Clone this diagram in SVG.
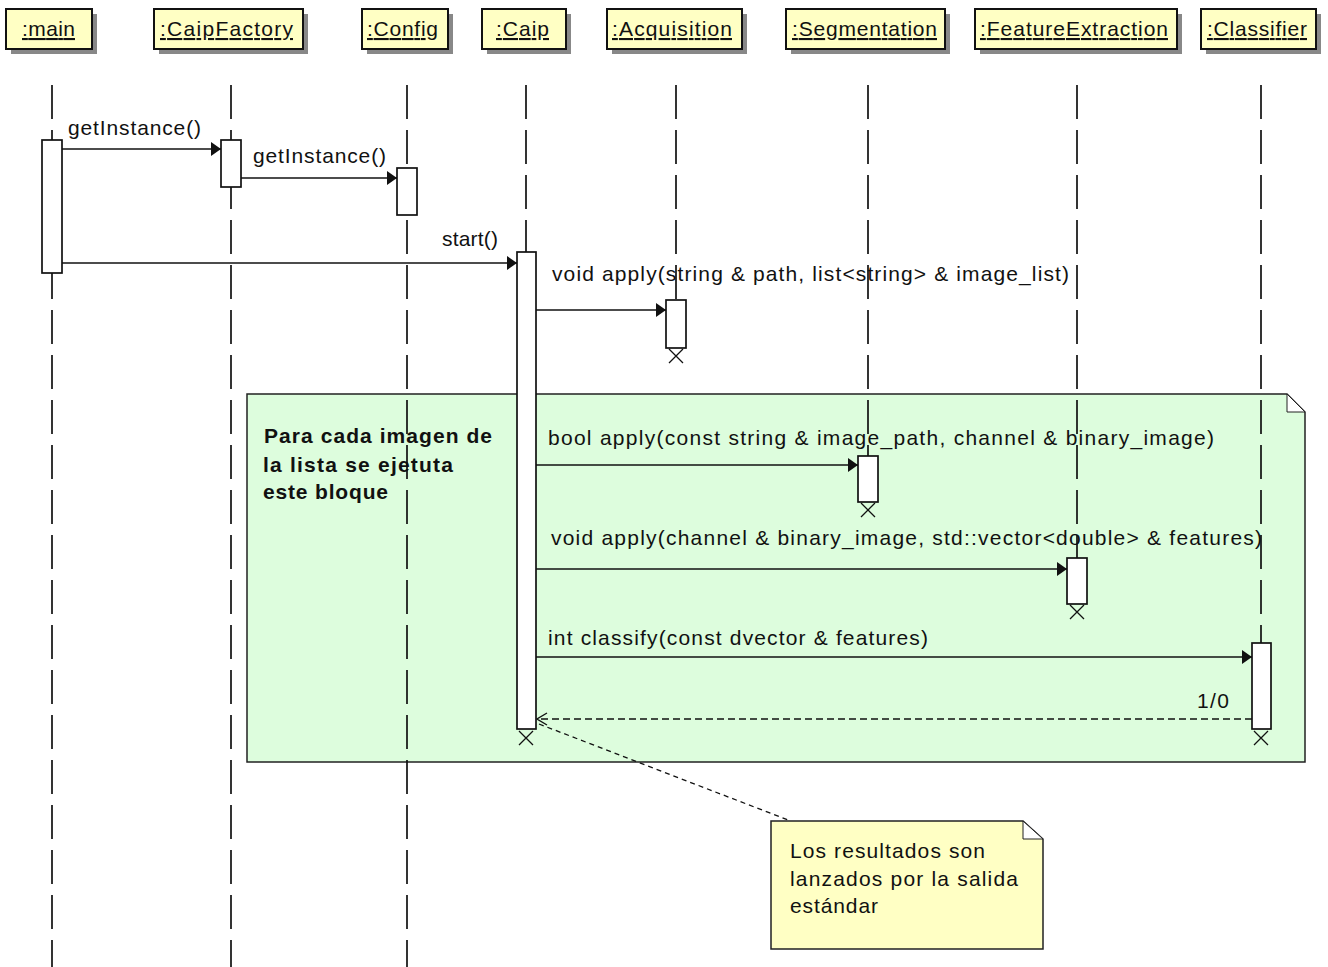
<svg xmlns="http://www.w3.org/2000/svg" width="1328" height="967" viewBox="0 0 1328 967">
  <style>
    text { font-family: "Liberation Sans", Arial, sans-serif; font-size: 21px; fill: #111; }
    .hdr { fill: #ffffc4; stroke: #111; stroke-width: 2; }
    .shadow { fill: #888; }
    .hdrtxt { text-decoration: underline; }
    .life { stroke: #111; stroke-width: 1.7; stroke-dasharray: 34 11; fill: none; }
    .act { fill: #fff; stroke: #111; stroke-width: 1.7; }
    .xmark { stroke: #111; stroke-width: 1.3; fill: none; }
    .msg { stroke: #111; stroke-width: 1.7; fill: none; }
    .ret { stroke: #111; stroke-width: 1.6; fill: none; stroke-dasharray: 7 4; }
    .anchor { stroke: #111; stroke-width: 1.3; fill: none; stroke-dasharray: 5 4; }
    .note-g { fill: #ddfddd; stroke: #222; stroke-width: 1.5; }
    .note-y { fill: #ffffc4; stroke: #222; stroke-width: 1.5; }
    .fold { fill: #fff; stroke: #222; stroke-width: 1; }
    .bold { font-weight: bold; }
  </style>
  <defs>
    <marker id="solid" viewBox="0 0 10 14" refX="10" refY="7" markerWidth="10" markerHeight="14" markerUnits="userSpaceOnUse" orient="auto">
      <path d="M0,0 L10,7 L0,14 z" fill="#111"/>
    </marker>
    <marker id="open" viewBox="0 0 12 14" refX="11" refY="7" markerWidth="12" markerHeight="14" markerUnits="userSpaceOnUse" orient="auto">
      <path d="M1,1 L11,7 L1,13" fill="none" stroke="#111" stroke-width="1.4"/>
    </marker>
  </defs>

  <rect width="1328" height="967" fill="#fff"/>

  <!-- loop note behind the lifelines -->
  <g id="note-loop">
    <path class="note-g" d="M247,394 L1287,394 L1305,412 L1305,762 L247,762 Z"/>
    <path class="fold" d="M1287,394 L1287,412 L1305,412 Z"/>
    <text class="bold" x="264" y="443" textLength="228" lengthAdjust="spacing">Para cada imagen de</text>
    <text class="bold" x="263" y="472" textLength="190" lengthAdjust="spacing">la lista se ejetuta</text>
    <text class="bold" x="263" y="499" textLength="125" lengthAdjust="spacing">este bloque</text>
  </g>

  <g id="main">
    <rect class="shadow" x="11" y="14" width="86" height="40"/>
    <rect class="hdr" x="6" y="9" width="86" height="40"/>
    <text class="hdrtxt" x="22" y="36" textLength="53" lengthAdjust="spacing">:main</text>
    <line class="life" x1="52" y1="85" x2="52" y2="967"/>
    <rect class="act" x="42" y="140" width="20" height="133"/>
  </g>

  <g id="caipfactory">
    <rect class="shadow" x="159" y="14" width="149" height="40"/>
    <rect class="hdr" x="154" y="9" width="149" height="40"/>
    <text class="hdrtxt" x="160" y="36" textLength="133" lengthAdjust="spacing">:CaipFactory</text>
    <line class="life" x1="231" y1="85" x2="231" y2="967"/>
    <rect class="act" x="221" y="140" width="20" height="47"/>
  </g>

  <g id="config">
    <rect class="shadow" x="367" y="14" width="86" height="40"/>
    <rect class="hdr" x="362" y="9" width="86" height="40"/>
    <text class="hdrtxt" x="367" y="36" textLength="71" lengthAdjust="spacing">:Config</text>
    <line class="life" x1="407" y1="85" x2="407" y2="967"/>
    <rect class="act" x="397" y="168" width="20" height="47"/>
  </g>

  <g id="caip">
    <rect class="shadow" x="487" y="14" width="84" height="40"/>
    <rect class="hdr" x="482" y="9" width="84" height="40"/>
    <text class="hdrtxt" x="496" y="36" textLength="53" lengthAdjust="spacing">:Caip</text>
    <line class="life" x1="526" y1="85" x2="526" y2="252"/>
    <rect class="act" x="517" y="252" width="19" height="477"/>
    <path class="xmark" d="M519,731 L533,745 M533,731 L519,745"/>
  </g>

  <g id="acquisition">
    <rect class="shadow" x="612" y="14" width="135" height="40"/>
    <rect class="hdr" x="607" y="9" width="135" height="40"/>
    <text class="hdrtxt" x="612" y="36" textLength="120" lengthAdjust="spacing">:Acquisition</text>
    <line class="life" x1="676" y1="85" x2="676" y2="300"/>
    <rect class="act" x="666" y="300" width="20" height="48"/>
    <path class="xmark" d="M669,349 L683,363 M683,349 L669,363"/>
  </g>

  <g id="segmentation">
    <rect class="shadow" x="791" y="14" width="159" height="40"/>
    <rect class="hdr" x="786" y="9" width="159" height="40"/>
    <text class="hdrtxt" x="792" y="36" textLength="145" lengthAdjust="spacing">:Segmentation</text>
    <line class="life" x1="868" y1="85" x2="868" y2="456"/>
    <rect class="act" x="858" y="456" width="20" height="46"/>
    <path class="xmark" d="M861,503 L875,517 M875,503 L861,517"/>
  </g>

  <g id="featureextraction">
    <rect class="shadow" x="980" y="14" width="202" height="40"/>
    <rect class="hdr" x="975" y="9" width="202" height="40"/>
    <text class="hdrtxt" x="980" y="36" textLength="188" lengthAdjust="spacing">:FeatureExtraction</text>
    <line class="life" x1="1077" y1="85" x2="1077" y2="558"/>
    <rect class="act" x="1067" y="558" width="20" height="46"/>
    <path class="xmark" d="M1070,605 L1084,619 M1084,605 L1070,619"/>
  </g>

  <g id="classifier">
    <rect class="shadow" x="1206" y="14" width="115" height="40"/>
    <rect class="hdr" x="1201" y="9" width="115" height="40"/>
    <text class="hdrtxt" x="1207" y="36" textLength="100" lengthAdjust="spacing">:Classifier</text>
    <line class="life" x1="1261" y1="85" x2="1261" y2="643"/>
    <rect class="act" x="1252" y="643" width="19" height="86"/>
    <path class="xmark" d="M1254,731 L1268,745 M1268,731 L1254,745"/>
  </g>

  <!-- messages -->
  <g id="connectors">
    <line class="msg" x1="62" y1="149" x2="221" y2="149" marker-end="url(#solid)"/>
    <text x="68" y="135" textLength="133" lengthAdjust="spacing">getInstance()</text>

    <line class="msg" x1="241" y1="178" x2="397" y2="178" marker-end="url(#solid)"/>
    <text x="253" y="163" textLength="133" lengthAdjust="spacing">getInstance()</text>

    <line class="msg" x1="62" y1="263" x2="517" y2="263" marker-end="url(#solid)"/>
    <text x="442" y="246" textLength="56" lengthAdjust="spacing">start()</text>

    <line class="msg" x1="536" y1="310" x2="666" y2="310" marker-end="url(#solid)"/>
    <text x="552" y="281" textLength="517" lengthAdjust="spacing">void apply(string &amp; path, list&lt;string&gt; &amp; image_list)</text>

    <line class="msg" x1="536" y1="465" x2="858" y2="465" marker-end="url(#solid)"/>
    <text x="548" y="445" textLength="666" lengthAdjust="spacing">bool apply(const string &amp; image_path, channel &amp; binary_image)</text>

    <line class="msg" x1="536" y1="569" x2="1067" y2="569" marker-end="url(#solid)"/>
    <text x="551" y="545" textLength="711" lengthAdjust="spacing">void apply(channel &amp; binary_image, std::vector&lt;double&gt; &amp; features)</text>

    <line class="msg" x1="536" y1="657" x2="1252" y2="657" marker-end="url(#solid)"/>
    <text x="548" y="645" textLength="380" lengthAdjust="spacing">int classify(const dvector &amp; features)</text>

    <line class="ret" x1="1252" y1="719" x2="537" y2="719" marker-end="url(#open)"/>
    <text x="1197" y="708" textLength="32" lengthAdjust="spacing">1/0</text>

    <line class="anchor" x1="539" y1="724" x2="788" y2="820"/>
  </g>

  <g id="note-output">
    <path class="note-y" d="M771,821 L1023,821 L1043,839 L1043,949 L771,949 Z"/>
    <path class="fold" d="M1023,821 L1023,839 L1043,839 Z"/>
    <text x="790" y="858" textLength="195" lengthAdjust="spacing">Los resultados son</text>
    <text x="790" y="886" textLength="228" lengthAdjust="spacing">lanzados por la salida</text>
    <text x="790" y="913" textLength="88" lengthAdjust="spacing">estándar</text>
  </g>
</svg>
